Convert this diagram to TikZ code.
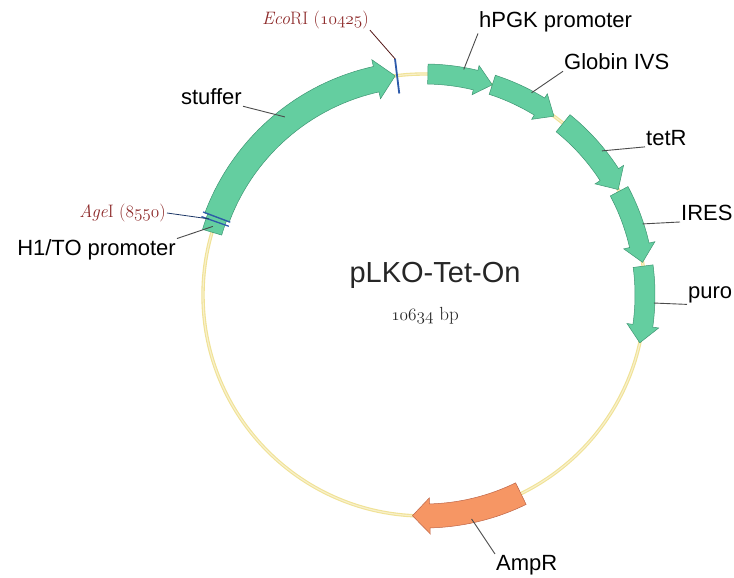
\documentclass[tikz,border=0pt]{standalone}
\usepackage{fontspec}
\setsansfont{Liberation Sans}

\definecolor{genegreen}{RGB}{100,206,160}
\definecolor{genedark}{RGB}{62,150,115}
\definecolor{ampfill}{RGB}{246,150,100}
\definecolor{ampdark}{RGB}{190,100,70}
\definecolor{backbone}{RGB}{240,226,150}
\definecolor{siteblue}{RGB}{45,90,170}
\definecolor{enzred}{RGB}{140,40,40}
\definecolor{leadgray}{RGB}{75,75,75}

% old style figures from the math italic font
\newcommand{\osf}[1]{{\fontencoding{OML}\fontfamily{cmm}\fontseries{m}\fontshape{it}\selectfont #1}}

\tikzset{
  lbl/.style={font=\sffamily\fontsize{22}{24}\selectfont, inner sep=1pt},
  enz/.style={font=\fontsize{18}{20}\selectfont, text=enzred, inner sep=1pt},
  leader/.style={draw=leadgray, line width=0.9pt},
  site/.style={draw=siteblue, line width=1.8pt},
}

\begin{document}
\begin{tikzpicture}[x=1pt, y=1pt]
      \useasboundingbox (-424,-283) rectangle (310,295);
      \def \R {221}
      % id / start / end / half width / head half width / head length / fill / edge
      \def \Genes {
        stuffer/159.5/97.5/13/20/5/genegreen/genedark,
        hpgk/89/72/10/15/4.5/genegreen/genedark,
        globin/72/54/10/15/4.5/genegreen/genedark,
        tetr/51/28.5/11/17/4.5/genegreen/genedark,
        ires/28/8.5/10/16/4.5/genegreen/genedark,
        puro/7.5/-12.5/10/16/4.5/genegreen/genedark,
        ampr/-64/-93/12/18/4.5/ampfill/ampdark}
      % id / x / y / anchor / leader anchor / leader end / text
      \def \Labels {
        stuffer/-181/198/east/south east/128:226/stuffer,
        hpgk/54/273/west/south west/80:229/hPGK promoter,
        globin/139/233/west/south west/62:229/Globin IVS,
        tetr/221/157/west/south west/39:229/tetR,
        ires/256/82/west/south west/18:230/IRES,
        puro/263/0/west/south west/-2:230/puro,
        ampr/71/-270/west/north west/-78:229/AmpR,
        hto/-247/45/east/north east/162:222/{H1/TO promoter}}

      \node[circle, minimum size=2*\R, inner sep=0pt] (backbone) at (0,0) {};
      \draw[draw=backbone, double=white!50!backbone, double distance=1.2pt, line width=1.1pt]
        (0,0) circle[radius=\R];

      \foreach \id / \sa / \sb / \hw / \hh / \hl / \fc / \dc in \Genes {
        \pgfmathsetmacro\hc{\sb+\hl}
        \filldraw[fill=\fc, draw=\dc, line width=0.5pt]
          (\sa:\R+\hw) arc[start angle=\sa, end angle=\hc, radius=\R+\hw]
          -- (\hc:\R+\hh) -- (\sb:\R) -- (\hc:\R-\hh) -- (\hc:\R-\hw)
          arc[start angle=\hc, end angle=\sa, radius=\R-\hw] -- cycle;
      }
      % H1/TO promoter box
      \filldraw[fill=genegreen, draw=genedark, line width=0.5pt]
        (159.5:\R+10) arc[start angle=159.5, end angle=163.5, radius=\R+10]
        -- (163.5:\R-10) arc[start angle=163.5, end angle=159.5, radius=\R-10] -- cycle;

      % cut sites
      \coordinate (eco-in) at (97:203);
      \coordinate (eco-out) at (97:238);
      \coordinate (age-in) at (159.4:207);
      \coordinate (age-out) at (159.4:236);
      \coordinate (age2-in) at (160.6:207);
      \coordinate (age2-out) at (160.6:236);
      \draw[site] (eco-in) -- (eco-out);
      \draw[site, line width=1.3pt] (age-in) -- (age-out);
      \draw[site, line width=1.3pt] (age2-in) -- (age2-out);

      \foreach \id / \x / \y / \anch / \lanch / \pt / \txt in \Labels {
        \node[lbl, anchor=\anch] (\id) at (\x,\y) {\txt};
        \coordinate (\id-p) at (\pt);
        \draw[leader] (\id.\lanch) -- (\id-p);
      }

      \node[enz, anchor=east] (ecori) at (-54,275) {\textit{Eco}RI (\osf{10425})};
      \node[enz, anchor=east] (agei) at (-257,82) {\textit{Age}I (\osf{8550})};
      \coordinate (agei-p) at (160.5:228);
      \draw[draw=enzred!60!black, line width=0.8pt] (ecori.south east) -- (eco-out);
      \draw[draw=siteblue!60!black, line width=0.8pt] (agei.east) -- (agei-p);

      \node[font=\sffamily\fontsize{29}{31}\selectfont, text=black!85, anchor=base] (name) at (11,12) {pLKO-Tet-On};
      \node[font=\fontsize{19}{21}\selectfont, text=black!85, anchor=base] (size) at (1,-26) {\osf{10634} bp};
    \end{tikzpicture}
\end{document}
